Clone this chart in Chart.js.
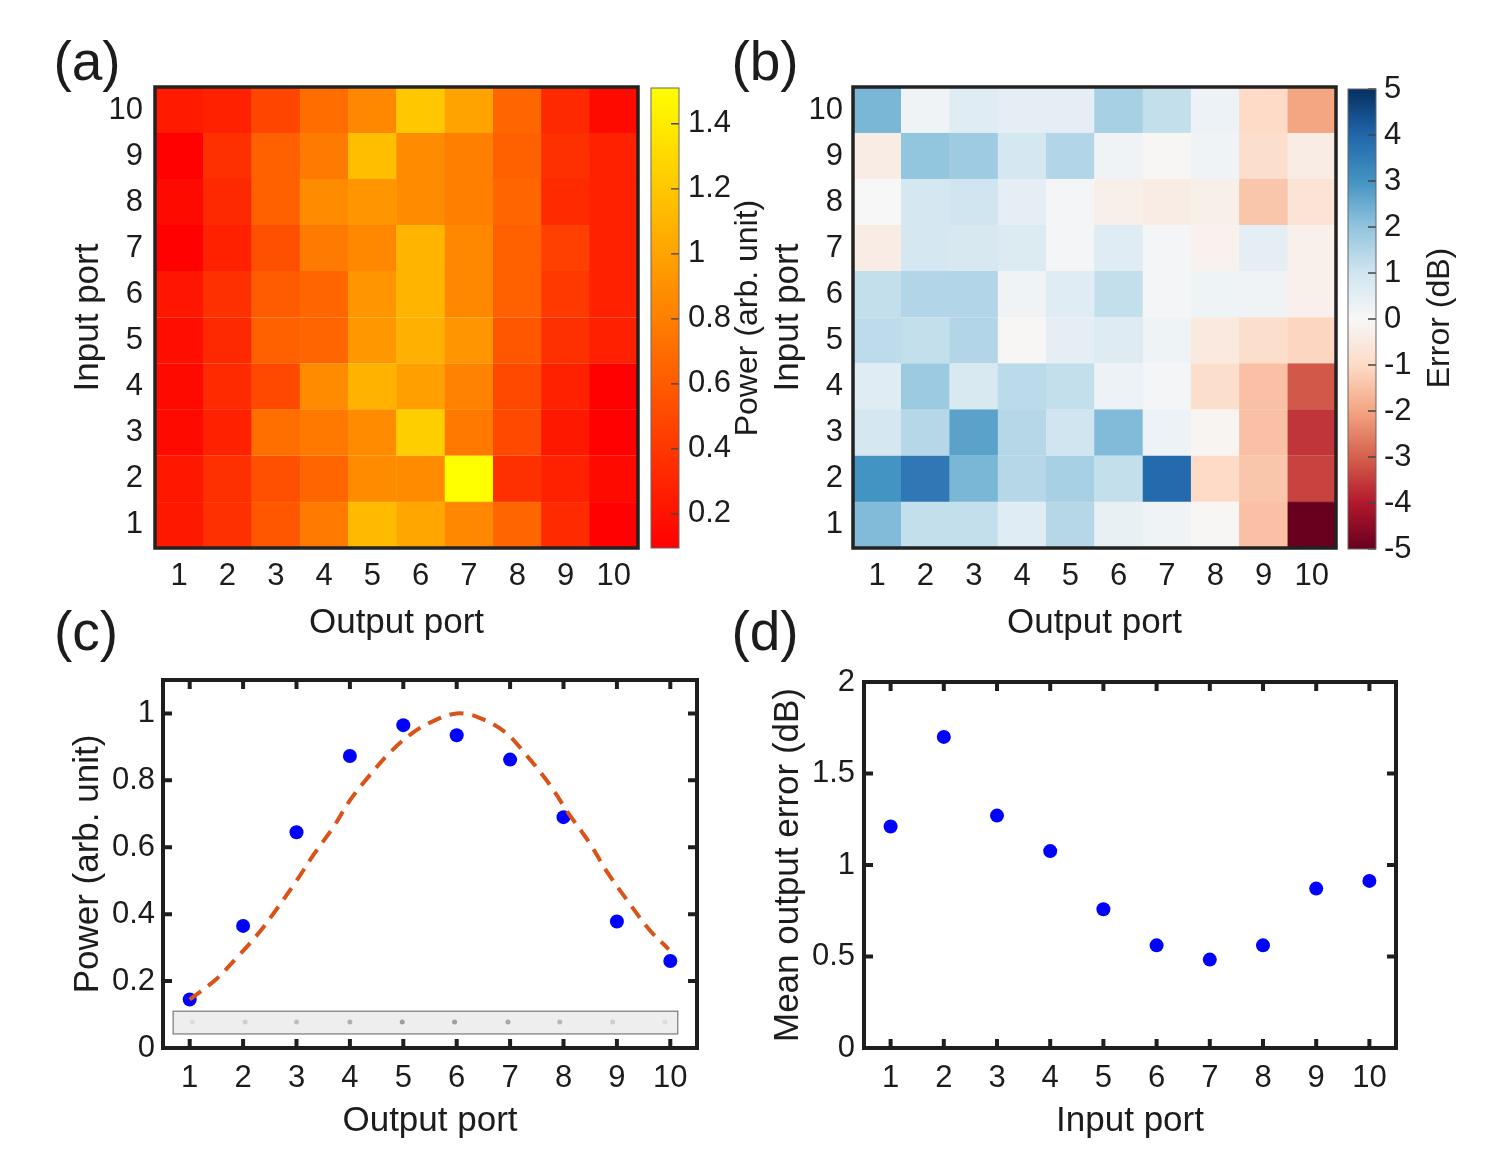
<!DOCTYPE html>
<html><head><meta charset="utf-8">
<script src="https://cdn.jsdelivr.net/npm/chart.js@4.4.1/dist/chart.umd.min.js"></script>
<style>
html,body{margin:0;padding:0;background:#fff;}
#wrap{position:relative;width:1498px;height:1174px;background:#fff;}
#wrap canvas{position:absolute;left:0;top:0;}
</style></head><body><div id="wrap">
<canvas id="cA" width="1498" height="1174"></canvas>
<canvas id="cAbar" width="1498" height="1174"></canvas>
<canvas id="cB" width="1498" height="1174"></canvas>
<canvas id="cBbar" width="1498" height="1174"></canvas>
<canvas id="cC" width="1498" height="1174"></canvas>
<canvas id="cD" width="1498" height="1174"></canvas>
</div>
<script>
// ---------------- DATA ----------------
const ports = [1, 2, 3, 4, 5, 6, 7, 8, 9, 10];
const portLabels = ['1', '2', '3', '4', '5', '6', '7', '8', '9', '10'];

// (a) measured power, rows = input port 1..10, columns = output port 1..10
const powerIn1  = [0.23, 0.36, 0.58, 0.77, 1.13, 1.02, 0.85, 0.66, 0.33, 0.10];
const powerIn2  = [0.22, 0.36, 0.54, 0.66, 0.87, 0.87, 1.51, 0.36, 0.28, 0.15];
const powerIn3  = [0.15, 0.28, 0.71, 0.76, 0.87, 1.24, 0.76, 0.50, 0.23, 0.10];
const powerIn4  = [0.15, 0.33, 0.50, 0.87, 1.09, 0.98, 0.82, 0.50, 0.28, 0.10];
const powerIn5  = [0.18, 0.32, 0.63, 0.66, 0.94, 1.07, 0.92, 0.58, 0.36, 0.27];
const powerIn6  = [0.21, 0.36, 0.60, 0.66, 0.92, 1.10, 0.85, 0.63, 0.41, 0.28];
const powerIn7  = [0.10, 0.28, 0.54, 0.77, 0.85, 1.10, 0.85, 0.63, 0.45, 0.28];
const powerIn8  = [0.15, 0.32, 0.63, 0.87, 0.92, 0.87, 0.80, 0.66, 0.33, 0.28];
const powerIn9  = [0.10, 0.36, 0.63, 0.77, 1.15, 0.87, 0.80, 0.63, 0.36, 0.28];
const powerIn10 = [0.24, 0.28, 0.48, 0.70, 0.85, 1.20, 1.00, 0.66, 0.32, 0.15];
const powerMap = [powerIn1, powerIn2, powerIn3, powerIn4, powerIn5, powerIn6, powerIn7, powerIn8, powerIn9, powerIn10];
const powerRange = [0.095, 1.51];
const powerBarTicks = [0.2, 0.4, 0.6, 0.8, 1, 1.2, 1.4];

// (b) error (dB), rows = input port 1..10, columns = output port 1..10
const errIn1  = [2.2, 1.2, 1.2, 0.6, 1.45, 0.4, 0.2, -0.05, -1.5, -5.0];
const errIn2  = [3.0, 3.6, 2.3, 1.45, 1.65, 1.2, 3.9, -1.0, -1.4, -3.4];
const errIn3  = [0.9, 1.45, 2.7, 1.45, 1.0, 2.2, 0.3, -0.1, -1.5, -3.6];
const errIn4  = [0.6, 1.85, 0.8, 1.35, 1.2, 0.3, 0.1, -0.9, -1.5, -3.1];
const errIn5  = [1.3, 1.2, 1.5, -0.05, 0.5, 0.65, 0.25, -0.5, -0.9, -1.1];
const errIn6  = [1.2, 1.5, 1.5, 0.2, 0.6, 1.2, 0.1, 0.25, 0.2, -0.25];
const errIn7  = [-0.4, 0.9, 0.85, 0.7, 0.1, 0.6, 0.1, -0.2, 0.5, -0.25];
const errIn8  = [0.0, 0.9, 1.0, 0.5, 0.1, -0.3, -0.4, -0.3, -1.4, -0.7];
const errIn9  = [-0.4, 2.0, 1.8, 0.9, 1.5, 0.2, -0.05, 0.2, -0.9, -0.4];
const errIn10 = [2.3, 0.2, 0.6, 0.5, 0.5, 1.65, 1.2, 0.3, -1.0, -2.0];
const errMap = [errIn1, errIn2, errIn3, errIn4, errIn5, errIn6, errIn7, errIn8, errIn9, errIn10];
const errRange = [-5, 5];
const errBarTicks = [-5, -4, -3, -2, -1, 0, 1, 2, 3, 4, 5];

// (c) power at output ports, fitted curve, camera spot intensities
const outPower = [0.145, 0.365, 0.645, 0.873, 0.965, 0.935, 0.862, 0.69, 0.378, 0.26];
const fitX = [1, 1.49, 1.91, 2.3, 2.65, 3.0, 3.33, 3.69, 4.0, 4.37, 4.76, 5.2, 5.6, 6.0, 6.38, 6.9, 7.28, 7.73, 8.1, 8.5, 8.8, 9.2, 9.6, 9.97];
const fitY = [0.145, 0.205, 0.275, 0.345, 0.42, 0.50, 0.58, 0.66, 0.74, 0.815, 0.885, 0.945, 0.98, 1.0, 0.99, 0.945, 0.88, 0.79, 0.70, 0.61, 0.53, 0.44, 0.355, 0.295];
const spotX = [1.05, 2.04, 3.0, 4.0, 4.98, 5.96, 6.96, 7.93, 8.92, 9.9];
const spotLevel = [0.1, 0.2, 0.3, 0.4, 0.5, 0.5, 0.45, 0.35, 0.2, 0.1];
const powerTicks = [0, 0.2, 0.4, 0.6, 0.8, 1];

// (d) mean output error per input port
const meanErr = [1.21, 1.70, 1.27, 1.076, 0.758, 0.561, 0.483, 0.561, 0.871, 0.913];
const meanErrTicks = [0, 0.5, 1, 1.5, 2];

// ---------------- STYLE / HELPERS ----------------
const W = 1498, H = 1174;
const FONT = '"Liberation Sans", Arial, Helvetica, sans-serif';
const TXT = '#1c1c1c';
const TICK = 31, TITLE = 35;
Chart.defaults.font.family = FONT;
Chart.defaults.color = TXT;

function autumn(v) {
  let t = (v - powerRange[0]) / (powerRange[1] - powerRange[0]);
  t = Math.max(0, Math.min(1, t));
  return `rgb(255,${Math.round(255 * t)},0)`;
}
const rdbuStops = [[-5,[103,0,31]],[-4,[178,24,43]],[-3,[214,96,77]],[-2,[244,165,130]],[-1,[253,219,199]],
  [0,[247,247,247]],[1,[209,229,240]],[2,[146,197,222]],[3,[67,147,195]],[4,[33,102,172]],[5,[5,48,97]]];
function rdbu(v) {
  v = Math.max(-5, Math.min(5, v));
  for (let i = 0; i < rdbuStops.length - 1; i++) {
    const [a, ca] = rdbuStops[i], [b, cb] = rdbuStops[i + 1];
    if (v >= a && v <= b) {
      const t = (v - a) / (b - a);
      const c = ca.map((x, k) => Math.round(x + (cb[k] - x) * t));
      return `rgb(${c[0]},${c[1]},${c[2]})`;
    }
  }
  return 'rgb(247,247,247)';
}

function textPlugin(items) {
  return { id: 'txt', afterDraw(chart) {
    const ctx = chart.ctx;
    items.forEach(it => {
      ctx.save();
      ctx.font = `${it.size}px ${FONT}`;
      ctx.fillStyle = TXT; ctx.textAlign = 'center'; ctx.textBaseline = 'middle';
      ctx.translate(it.x, it.y);
      if (it.rot) ctx.rotate(it.rot);
      ctx.fillText(it.text, 0, 0);
      ctx.restore();
    });
  }};
}

function framePlugin(o) {
  return { id: 'frame', afterDatasetsDraw(chart) {
    const ctx = chart.ctx, a = chart.chartArea;
    ctx.save();
    ctx.lineCap = 'butt';
    if (o.ticks) {
      ctx.strokeStyle = o.tickColor || o.color; ctx.lineWidth = o.tickWidth || o.width;
      ctx.beginPath();
      const xs = chart.scales.x, ys = chart.scales.y;
      if (o.ticks.x) xs.ticks.forEach(t => { const p = xs.getPixelForValue(t.value);
        ctx.moveTo(p, a.bottom); ctx.lineTo(p, a.bottom - o.tickLen);
        ctx.moveTo(p, a.top); ctx.lineTo(p, a.top + o.tickLen); });
      if (o.ticks.yLeft) ys.ticks.forEach(t => { const p = ys.getPixelForValue(t.value);
        ctx.moveTo(a.left, p); ctx.lineTo(a.left + o.tickLen, p); });
      if (o.ticks.yRight) ys.ticks.forEach(t => { const p = ys.getPixelForValue(t.value);
        ctx.moveTo(a.right, p); ctx.lineTo(a.right - o.tickLen, p); });
      ctx.stroke();
    }
    ctx.strokeStyle = o.color; ctx.lineWidth = o.width;
    ctx.strokeRect(a.left, a.top, a.right - a.left, a.bottom - a.top);
    ctx.restore();
  }};
}

function axisCommon() {
  return { grid: { display: false, drawTicks: false }, border: { display: false } };
}

function heatCfg(map, colorFn, area, yTitleX, yPad, xPad, xTitleY, panel) {
  const lh = TITLE * 1.2;
  const yW = area.l - (yTitleX - lh / 2);
  const xH = (xTitleY + lh / 2) - area.b;
  const datasets = map.map((row, i) => ({
    data: row.map(() => [ports[i] - 0.5, ports[i] + 0.5]),
    backgroundColor: row.map(colorFn),
    borderColor: row.map(colorFn),
    borderWidth: 0.6,
    grouped: false, barPercentage: 1, categoryPercentage: 1
  }));
  return {
    type: 'bar',
    data: { labels: portLabels, datasets },
    options: {
      responsive: false, animation: false, events: [],
      layout: { padding: { left: area.l - yW, right: W - area.r, top: area.t, bottom: H - area.b - xH } },
      plugins: { legend: { display: false }, tooltip: { enabled: false } },
      scales: {
        x: Object.assign(axisCommon(), {
          type: 'category',
          ticks: { font: { size: TICK }, padding: xPad, color: TXT, maxRotation: 0, autoSkip: false },
          title: { display: true, text: 'Output port', font: { size: TITLE }, padding: 0, color: TXT },
          afterFit: s => { s.height = xH; }
        }),
        y: Object.assign(axisCommon(), {
          type: 'linear', min: 0.5, max: 10.5,
          afterBuildTicks: s => { s.ticks = ports.map(v => ({ value: v })); },
          ticks: { font: { size: TICK }, padding: yPad, color: TXT, callback: v => String(v), autoSkip: false },
          title: { display: true, text: 'Input port', font: { size: TITLE }, padding: 0, color: TXT },
          afterFit: s => { s.width = yW; }
        })
      }
    },
    plugins: [framePlugin({ width: 3.5, color: '#222' }), textPlugin([panel])]
  };
}

function barCfg(range, tickVals, stopsFn, area, pad, title) {
  return {
    type: 'bar',
    data: { labels: [''], datasets: [{
      data: [range],
      backgroundColor: c => {
        const ch = c.chart, a = ch.chartArea;
        if (!a) return '#ccc';
        const g = ch.ctx.createLinearGradient(0, a.bottom, 0, a.top);
        stopsFn(g);
        return g;
      },
      borderWidth: 0, barPercentage: 1, categoryPercentage: 1
    }]},
    options: {
      responsive: false, animation: false, events: [],
      layout: { padding: { left: area.l, right: W - area.r - 100, top: area.t, bottom: H - area.b } },
      plugins: { legend: { display: false }, tooltip: { enabled: false } },
      scales: {
        x: { display: false },
        y: Object.assign(axisCommon(), {
          position: 'right', min: range[0], max: range[1],
          afterBuildTicks: s => { s.ticks = tickVals.map(v => ({ value: v })); },
          ticks: { font: { size: TICK }, padding: pad, color: TXT, callback: v => String(v), autoSkip: false },
          afterFit: s => { s.width = 100; }
        })
      }
    },
    plugins: [framePlugin({ width: 1, color: '#666', ticks: { yRight: true }, tickLen: 8, tickWidth: 1.3, tickColor: '#444' }), textPlugin([title])]
  };
}

function scatterCfg(datasets, area, yMax, yTicks, yTitle, xTitle, yTitleX, yPad, xPad, xTitleY, extraPlugins, panel) {
  const lh = TITLE * 1.2;
  const yW = area.l - (yTitleX - lh / 2);
  const xH = (xTitleY + lh / 2) - area.b;
  return {
    type: 'scatter',
    data: { datasets },
    options: {
      responsive: false, animation: false, events: [],
      layout: { padding: { left: area.l - yW, right: W - area.r, top: area.t, bottom: H - area.b - xH } },
      plugins: { legend: { display: false }, tooltip: { enabled: false } },
      scales: {
        x: Object.assign(axisCommon(), {
          type: 'linear', min: 0.5, max: 10.5,
          afterBuildTicks: s => { s.ticks = ports.map(v => ({ value: v })); },
          ticks: { font: { size: TICK }, padding: xPad, color: TXT, callback: v => String(v), autoSkip: false, maxRotation: 0 },
          title: { display: true, text: xTitle, font: { size: TITLE }, padding: 0, color: TXT },
          afterFit: s => { s.height = xH; }
        }),
        y: Object.assign(axisCommon(), {
          type: 'linear', min: 0, max: yMax,
          afterBuildTicks: s => { s.ticks = yTicks.map(v => ({ value: v })); },
          ticks: { font: { size: TICK }, padding: yPad, color: TXT, callback: v => String(v), autoSkip: false },
          title: { display: true, text: yTitle, font: { size: TITLE }, padding: 0, color: TXT },
          afterFit: s => { s.width = yW; }
        })
      }
    },
    plugins: extraPlugins.concat([framePlugin({ width: 4, color: '#1e1e1e', ticks: { x: true, yLeft: true, yRight: true }, tickLen: 9, tickWidth: 4 }), textPlugin([panel])])
  };
}

// ---------------- (a) ----------------
new Chart(document.getElementById('cA'), heatCfg(powerMap, autumn,
  { l: 155, r: 638, t: 87, b: 548 }, 88, 12, 9.5, 623,
  { text: '(a)', x: 87, y: 65, size: 55 }));
new Chart(document.getElementById('cAbar'), barCfg(powerRange, powerBarTicks,
  g => { g.addColorStop(0, 'rgb(255,0,0)'); g.addColorStop(1, 'rgb(255,255,0)'); },
  { l: 651, r: 679, t: 88, b: 548 }, 9,
  { text: 'Power (arb. unit)', x: 748, y: 318, size: 32, rot: -Math.PI / 2 }));

// ---------------- (b) ----------------
new Chart(document.getElementById('cB'), heatCfg(errMap, rdbu,
  { l: 853, r: 1336, t: 87, b: 548 }, 788, 10, 9.5, 623,
  { text: '(b)', x: 765, y: 65, size: 55 }));
new Chart(document.getElementById('cBbar'), barCfg(errRange, errBarTicks,
  g => { rdbuStops.forEach(([v, c]) => g.addColorStop((v + 5) / 10, `rgb(${c[0]},${c[1]},${c[2]})`)); },
  { l: 1348, r: 1376, t: 89, b: 549 }, 8,
  { text: 'Error (dB)', x: 1440, y: 318, size: 32, rot: -Math.PI / 2 }));

// ---------------- (c) ----------------
const stripPlugin = { id: 'strip', beforeDatasetsDraw(chart) {
  const ctx = chart.ctx, xs = chart.scales.x, ys = chart.scales.y;
  const x0 = xs.getPixelForValue(0.69), x1 = xs.getPixelForValue(10.14);
  const y0 = ys.getPixelForValue(0.11), y1 = ys.getPixelForValue(0.042);
  ctx.save();
  ctx.fillStyle = '#eeeeee';
  ctx.fillRect(x0, y0, x1 - x0, y1 - y0);
  ctx.strokeStyle = '#7a7a7a'; ctx.lineWidth = 1.2;
  ctx.strokeRect(x0, y0, x1 - x0, y1 - y0);
  ctx.restore();
}};
new Chart(document.getElementById('cC'), scatterCfg([
  { data: fitX.map((x, i) => ({ x, y: fitY[i] })), showLine: true, borderColor: '#d95319', borderWidth: 4,
    borderDash: [14, 9], pointRadius: 0, tension: 0.35, order: 0 },
  { data: ports.map((x, i) => ({ x, y: outPower[i] })), backgroundColor: '#0000ff', borderColor: '#0000ff',
    pointRadius: 7, borderWidth: 0, order: 1 },
  { data: spotX.map(x => ({ x, y: 0.078 })), backgroundColor: spotLevel.map(l => `rgba(80,80,80,${l})`),
    pointRadius: 2.5, borderWidth: 0, order: 2 }
], { l: 163, r: 697, t: 680, b: 1048 }, 1.1, powerTicks, 'Power (arb. unit)', 'Output port',
  88, 8, 12, 1121, [stripPlugin], { text: '(c)', x: 86, y: 635, size: 55 }));

// ---------------- (d) ----------------
new Chart(document.getElementById('cD'), scatterCfg([
  { data: ports.map((x, i) => ({ x, y: meanErr[i] })), backgroundColor: '#0000ff', borderColor: '#0000ff',
    pointRadius: 7, borderWidth: 0 }
], { l: 864, r: 1396, t: 682, b: 1048 }, 2, meanErrTicks, 'Mean output error (dB)', 'Input port',
  788, 9, 12, 1121, [], { text: '(d)', x: 765, y: 635, size: 55 }));
</script>
</body></html>
